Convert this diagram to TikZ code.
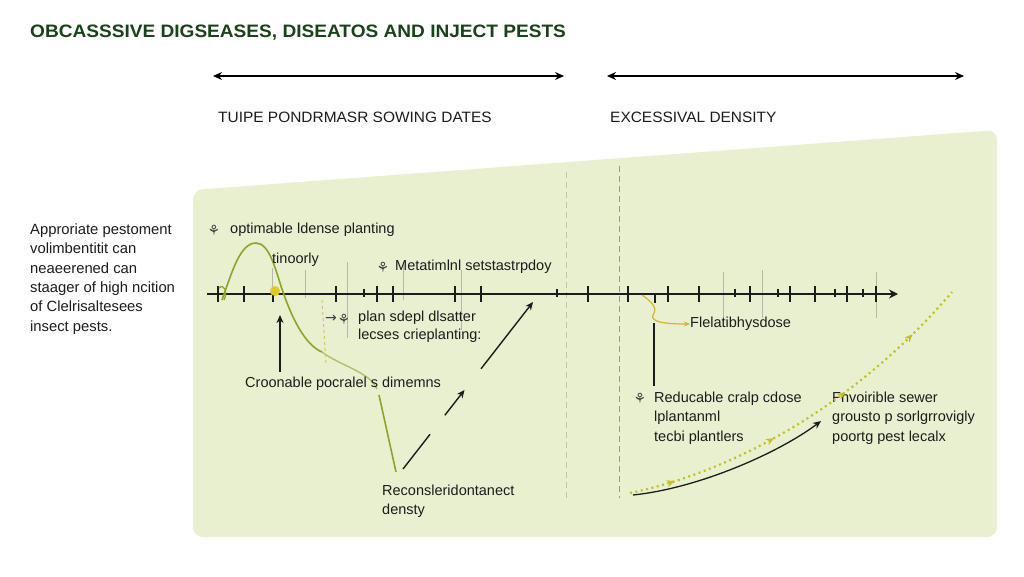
\documentclass[tikz,border=0pt]{standalone}
\usepackage{fontspec}
\setmainfont{Liberation Sans}
\newfontfamily\symfont{DejaVu Sans}
\newfontfamily\titlefont[FakeStretch=1.06]{Liberation Sans}
\newfontfamily\hdrfont[FakeStretch=1.03]{Liberation Sans}
\usetikzlibrary{arrows.meta,decorations.markings}
\definecolor{panel}{RGB}{232,240,207}
\definecolor{titlegreen}{RGB}{26,66,26}
\definecolor{olive}{RGB}{138,166,40}
\definecolor{dotyellow}{RGB}{196,192,36}
\definecolor{gold}{RGB}{214,180,50}
\definecolor{txt}{RGB}{28,28,28}
\definecolor{dgray}{RGB}{150,150,150}
\definecolor{lgray}{RGB}{195,195,185}
\begin{document}
\begin{tikzpicture}[x=1pt,y=-1pt,
  lbl/.style={font=\fontsize{14.5}{19.6}\selectfont, text=txt, inner sep=0pt, anchor=west, align=left},
  hdr/.style={font=\hdrfont\fontsize{15}{17}\selectfont, text=txt, inner sep=0pt, anchor=west},
  icon/.style={font=\symfont\fontsize{14}{14}\selectfont, text=txt!85, inner sep=0pt},
  tick/.style={line width=1.3pt, draw=txt},
  vdash/.style={dashed, dash pattern=on 6pt off 4pt, line width=1pt},
  bigarrow/.style={line width=1.4pt, {Stealth[length=9pt,width=8pt]}-{Stealth[length=9pt,width=8pt]}}
]
\useasboundingbox (0,0) rectangle (1024,576);
\fill[white] (0,0) rectangle (1024,576);
% panel
\fill[panel, rounded corners=10pt] (193,190) -- (997,130) -- (997,537) -- (193,537) -- cycle;

% title
\node[font=\titlefont\bfseries\fontsize{18}{20}\selectfont, text=titlegreen, inner sep=0pt, anchor=west] (title) at (30,33) {OBCASSSIVE DIGSEASES, DISEATOS AND INJECT PESTS};

% top arrows
\coordinate (a1) at (213,76); \coordinate (a2) at (564,76);
\coordinate (b1) at (607,76); \coordinate (b2) at (964,76);
\draw[bigarrow] (a1) -- (a2);
\draw[bigarrow] (b1) -- (b2);
\node[hdr] (h1) at (218,117) {TUIPE PONDRMASR SOWING DATES};
\node[hdr] (h2) at (610,117) {EXCESSIVAL DENSITY};

% left text
\node[lbl, font=\fontsize{14.8}{19.4}\selectfont] (left) at (30,279) {Approriate pestoment\\volimbentitit can\\neaeerened can\\staager of high ncition\\of Clelrisaltesees\\insect pests.};

% dashed verticals
\coordinate (v1t) at (566,172); \coordinate (v1b) at (566,498);
\coordinate (v2t) at (619,166); \coordinate (v2b) at (619,498);
\draw[vdash, lgray] (v1t) -- (v1b);
\draw[vdash, dgray] (v2t) -- (v2b);

% faint thin guide lines
\foreach \x/\a/\b in {272/268/300, 305/270/298, 347/262/338, 403/262/300, 461/270/330, 723/272/318, 762/270/318, 876/272/318}
  \draw[lgray!80!gray, line width=0.6pt] (\x,\a) -- (\x,\b);

% axis
\coordinate (ax0) at (207,294); \coordinate (ax1) at (898,294);
\draw[line width=2pt, txt, -{Stealth[length=9pt,width=9pt]}] (ax0) -- (ax1);
\foreach \x in {218,244,336,377,393,455,481,588,628,668,699,750,790,815,847,876}
  \draw[tick] (\x,286) -- (\x,302);
\foreach \x in {364,557,735,778,835,863}
  \draw[tick] (\x,289) -- (\x,297);
\draw[tick] (273,287) -- (273,302);
\draw[tick] (655,294) -- (655,303);

% green curve
\draw[olive, line width=1.6pt] (222,300) .. controls (232,272) and (240,243) .. (256,243)
  .. controls (270,243) and (276,272) .. (283,292)
  .. controls (292,318) and (305,345) .. (322,352);
\draw[olive!70!white, line width=1.4pt] (322,352) .. controls (335,362) and (355,368) .. (368,378)
  .. controls (372,381) and (375,385) .. (377,389);
\draw[gold!80!white, dashed, line width=1pt] (322,300) -- (326,365);
\fill[gold!70!yellow] (275,291) circle (5pt);
\draw[olive, line width=1.3pt] (219,288) .. controls (224,283) and (228,292) .. (224,300);

% icons and labels
\node[icon] (i1) at (214,230) {⚘};
\node[lbl] (l1) at (230,230) {optimable ldense planting};
\node[lbl] (l2) at (272,260) {tinoorly};
\node[icon] (i2) at (383,267) {⚘};
\node[lbl] (l3) at (395,267) {Metatimlnl setstastrpdoy};
\node[icon] (i3) at (331,319) {→};
\node[icon] (i4) at (344,319) {⚘};
\node[lbl, font=\fontsize{14.5}{18}\selectfont] (l4) at (358,327) {plan sdepl dlsatter\\lecses crieplanting:};
\node[lbl] (l5) at (245,384) {Croonable pocralel s dimemns};
\node[lbl, font=\fontsize{14.5}{19}\selectfont] (l6) at (382,501) {Reconsleridontanect\\densty};
\node[lbl] (l7) at (690,324) {Flelatibhysdose};
\node[icon] (i5) at (640,398) {⚘};
\node[lbl] (l8) at (654,418) {Reducable cralp cdose\\lplantanml\\tecbi plantlers};
\node[lbl] (l9) at (832,418) {Fnvoirible sewer\\grousto p sorlgrrovigly\\poortg pest lecalx};

% connectors
\coordinate (c1) at (280,372); \coordinate (c2) at (280,315);
\draw[line width=1.4pt, txt, -{Stealth[length=8pt,width=7pt]}] (c1) -- (c2);
\coordinate (g1) at (379,395); \coordinate (g2) at (396,472);
\draw[olive, line width=1.6pt] (g1) -- (g2);
\coordinate (d1) at (403,469); \coordinate (d2) at (533,302);
\draw[line width=1.4pt, txt, dash pattern=on 44pt off 83pt on 120pt, -{Stealth[length=8pt,width=7pt]}] (d1) -- (d2);
\coordinate (m1) at (444.8,415.3); \coordinate (m2) at (464.5,390);
\draw[line width=1.4pt, txt, -{Stealth[length=8pt,width=7pt]}] (m1) -- (m2);
% yellow curved arrow to Flelatibhysdose
\coordinate (y1) at (642,295);
\draw[gold, line width=1.2pt, -{Stealth[length=6pt,width=5pt]}] (y1) .. controls (652,302) and (658,308) .. (653,315) .. controls (650,322) and (665,324) .. (l7.west);
% vertical black line
\coordinate (k1) at (654,323); \coordinate (k2) at (654,386);
\draw[line width=1.4pt, txt] (k1) -- (k2);
% black curve arrow
\coordinate (e1) at (633,495); \coordinate (e2) at (821,421);
\draw[line width=1.3pt, txt, -{Stealth[length=8pt,width=7pt]}] (e1) .. controls (700,488) and (780,452) .. (e2);
% yellow dotted curve with arrows
\coordinate (f1) at (630,493); \coordinate (f2) at (952,292);
\draw[dotyellow, line width=2.2pt, dash pattern=on 2pt off 3.5pt,
  decoration={markings,
    mark=at position 0.12 with {\arrow[solid]{Stealth[length=8pt,width=7pt]}},
    mark=at position 0.4 with {\arrow[solid]{Stealth[length=8pt,width=7pt]}},
    mark=at position 0.62 with {\arrow[solid]{Stealth[length=8pt,width=7pt]}},
    mark=at position 0.85 with {\arrow[solid]{Stealth[length=8pt,width=7pt]}}},
  postaction={decorate}] (f1) .. controls (740,470) and (860,400) .. (f2);
\end{tikzpicture}
\end{document}
